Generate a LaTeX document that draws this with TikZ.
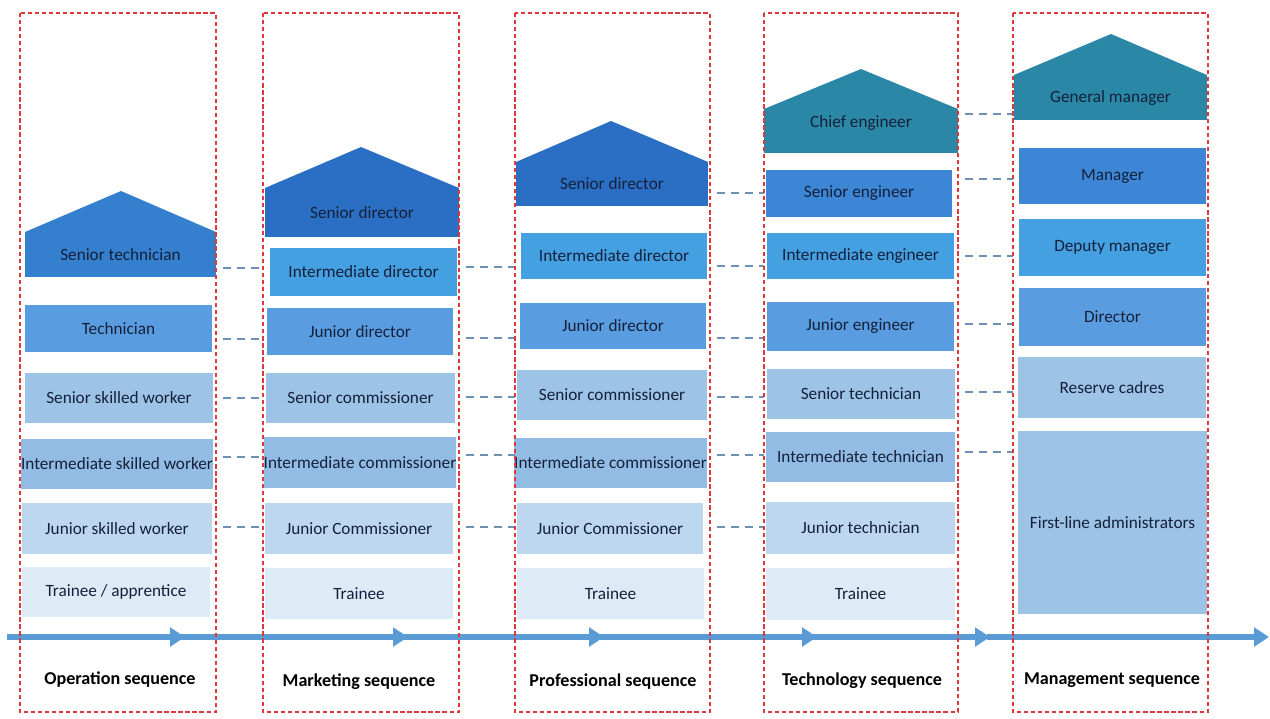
\documentclass[tikz,border=0pt]{standalone}
\usepackage{fontspec}
\setmainfont{Carlito}
\usetikzlibrary{arrows.meta,calc}
\definecolor{roofA}{HTML}{3580CE}
\definecolor{roofB}{HTML}{2B6FC4}
\definecolor{roofT}{HTML}{2A88A6}
\definecolor{cSenE}{HTML}{3D86D6}
\definecolor{cInt}{HTML}{45A0E2}
\definecolor{cJun}{HTML}{5A9CE0}
\definecolor{cSen}{HTML}{9DC3E6}
\definecolor{cMid}{HTML}{92BCE4}
\definecolor{cJr}{HTML}{BDD7EE}
\definecolor{cTr}{HTML}{DDEBF7}
\definecolor{txt}{HTML}{15203A}
\definecolor{connc}{HTML}{6F90B2}
\definecolor{framec}{HTML}{E0383A}
\definecolor{flowc}{HTML}{5B9BD5}
\newcommand\bx[7]{%
  \node[box, fill=#6, minimum width={(#4-#2)*0.02cm}, minimum height={(#5-#3)*0.02cm}] (#1) at ({(#2+#4)/2},{(#3+#5)/2}) {#7};}
\newcommand\fr[5]{%
  \node[inner sep=0pt, outer sep=0pt, minimum width={(#4-#2)*0.02cm}, minimum height={(#5-#3)*0.02cm}] (#1) at ({(#2+#4)/2},{(#3+#5)/2}) {};}
\newcommand\lk[3]{\draw[conn] ($(#1.east |- 0,#3)+(7,0)$) -- (#2.west |- 0,#3);}
\begin{document}
\begin{tikzpicture}[x=0.02cm,y=-0.02cm,
  box/.style={inner sep=0pt, outer sep=0pt, text=txt, font=\fontsize{9.8}{11}\selectfont},
  conn/.style={draw=connc, line width=0.7pt, dash pattern=on 4.5pt off 3.5pt},
  frame/.style={draw=framec, line width=0.8pt, dash pattern=on 2.4pt off 1.6pt},
  seqlabel/.style={font=\fontsize{10.3}{12}\selectfont\bfseries, text=black},
  flow/.style={draw=flowc, line width=3.4pt, -{Triangle[length=8.5pt,width=10.5pt]}}]
\useasboundingbox (0,0) rectangle (1270,718);
% column 1
\bx{o1}{25}{232}{216}{277}{roofA}{Senior technician}
\fill[roofA] (o1.north west) -- (121,191) -- (o1.north east) -- cycle;
\bx{o2}{25}{305}{212}{352}{cJun}{Technician}
\bx{o3}{25}{373}{213}{423}{cSen}{Senior skilled worker}
\bx{o4}{22}{439}{212}{489}{cMid}{Intermediate skilled worker}
\bx{o5}{22}{503}{212}{554}{cJr}{Junior skilled worker}
\bx{o6}{22}{567}{210}{617}{cTr}{Trainee / apprentice}
% column 2
\bx{m1}{265}{188}{459}{237}{roofB}{Senior director}
\fill[roofB] (m1.north west) -- (361,147) -- (m1.north east) -- cycle;
\bx{m2}{270}{248}{457}{296}{cInt}{Intermediate director}
\bx{m3}{267}{308}{453}{355}{cJun}{Junior director}
\bx{m4}{266}{373}{455}{423}{cSen}{Senior commissioner}
\bx{m5}{265}{437}{455}{488}{cMid}{Intermediate commissioner}
\bx{m6}{265}{503}{453}{554}{cJr}{Junior Commissioner}
\bx{m7}{265}{568}{453}{619}{cTr}{Trainee}
% column 3
\bx{p1}{516}{162}{708}{206}{roofB}{Senior director}
\fill[roofB] (p1.north west) -- (611,121) -- (p1.north east) -- cycle;
\bx{p2}{521}{233}{707}{279}{cInt}{Intermediate director}
\bx{p3}{520}{303}{706}{349}{cJun}{Junior director}
\bx{p4}{517}{370}{707}{420}{cSen}{Senior commissioner}
\bx{p5}{517}{438}{704}{488}{cMid}{Intermediate commissioner}
\bx{p6}{517}{503}{703}{554}{cJr}{Junior Commissioner}
\bx{p7}{517}{568}{704}{619}{cTr}{Trainee}
% column 4
\bx{t1}{764}{109}{958}{153}{roofT}{}
\fill[roofT] (t1.north west) -- (861,69) -- (t1.north east) -- cycle;
\node[box] (t1txt) at ([yshift=0.16cm]t1.center) {Chief engineer};
\bx{t2}{766}{170}{952}{217}{cSenE}{Senior engineer}
\bx{t3}{767}{233}{954}{279}{cInt}{Intermediate engineer}
\bx{t4}{767}{302}{954}{351}{cJun}{Junior engineer}
\bx{t5}{767}{369}{955}{419}{cSen}{Senior technician}
\bx{t6}{766}{432}{955}{482}{cMid}{Intermediate technician}
\bx{t7}{766}{502}{955}{554}{cJr}{Junior technician}
\bx{t8}{766}{568}{955}{620}{cTr}{Trainee}
% column 5
\bx{g1}{1014}{75}{1207}{120}{roofT}{General manager}
\fill[roofT] (g1.north west) -- (1111,34) -- (g1.north east) -- cycle;
\bx{g2}{1019}{148}{1206}{204}{cSenE}{Manager}
\bx{g3}{1019}{219}{1206}{276}{cInt}{Deputy manager}
\bx{g4}{1019}{288}{1206}{346}{cJun}{Director}
\bx{g5}{1018}{357}{1206}{418}{cSen}{Reserve cadres}
\bx{g6}{1018}{431}{1207}{614}{cSen}{First-line administrators}
% frames (named areas)
\fr{f1}{20}{13}{216}{712}
\fr{f2}{263}{13}{459}{712}
\fr{f3}{515}{13}{710}{712}
\fr{f4}{764}{13}{958}{712}
\fr{f5}{1013}{13}{1208}{712}
% connectors
\lk{f1}{f2}{268}\lk{f1}{f2}{339}\lk{f1}{f2}{398}\lk{f1}{f2}{457}\lk{f1}{f2}{527}
\lk{f2}{f3}{267}\lk{f2}{f3}{338}\lk{f2}{f3}{397}\lk{f2}{f3}{455}\lk{f2}{f3}{527}
\lk{f3}{f4}{193}\lk{f3}{f4}{266}\lk{f3}{f4}{338}\lk{f3}{f4}{397}\lk{f3}{f4}{455}\lk{f3}{f4}{527}
\lk{f4}{f5}{114}\lk{f4}{f5}{179}\lk{f4}{f5}{256}\lk{f4}{f5}{324}\lk{f4}{f5}{392}\lk{f4}{f5}{452}
% flow arrow
\coordinate (a0) at (7,637);
\coordinate (a1) at (185,637);
\coordinate (a2) at (408,637);
\coordinate (a3) at (604,637);
\coordinate (a4) at (817,637);
\coordinate (a5) at (990,637);
\coordinate (a6) at (1269,637);
\draw[flow] (a0) -- (a1);
\draw[flow] ([xshift=-2pt]a1) -- (a2);
\draw[flow] ([xshift=-2pt]a2) -- (a3);
\draw[flow] ([xshift=-2pt]a3) -- (a4);
\draw[flow] ([xshift=-2pt]a4) -- (a5);
\draw[flow] ([xshift=-2pt]a5) -- (a6);
% dashed frames on top
\foreach \f in {f1,f2,f3,f4,f5} {\draw[frame] (\f.north west) rectangle (\f.south east);}
% labels
\node[seqlabel] (l1) at (120,680) {Operation sequence};
\node[seqlabel] (l2) at (359,682) {Marketing sequence};
\node[seqlabel] (l3) at (613,682) {Professional sequence};
\node[seqlabel] (l4) at (862,681) {Technology sequence};
\node[seqlabel] (l5) at (1112,680) {Management sequence};
\end{tikzpicture}
\end{document}
